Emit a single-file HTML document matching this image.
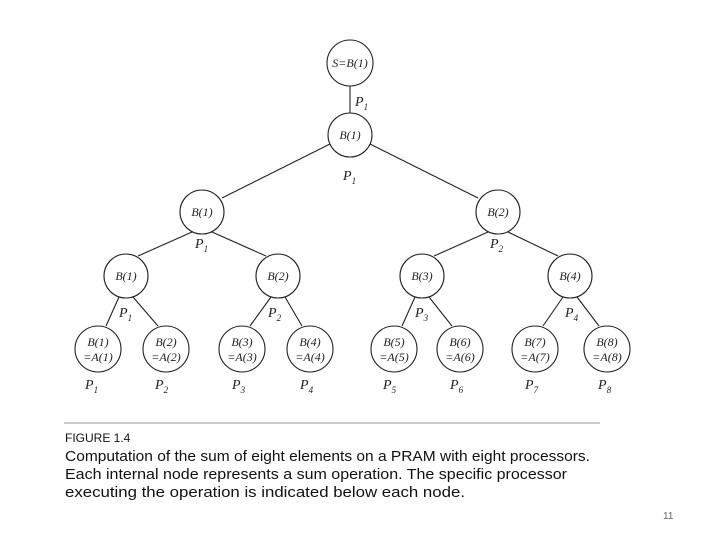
<!DOCTYPE html>
<html><head><meta charset="utf-8"><style>
body{margin:0;background:#fff;}
svg{display:block}
.n{font-family:"Liberation Serif",serif;font-style:italic;font-size:12px;fill:#222}
.p{font-family:"Liberation Serif",serif;font-style:italic;font-size:14px;fill:#222}
.s{font-size:9px}
.c{font-family:"Liberation Sans",sans-serif;fill:#111}
</style></head><body>
<svg width="720" height="540" viewBox="0 0 720 540" xmlns="http://www.w3.org/2000/svg">
<g stroke="#222" stroke-width="1.1" fill="none">
<line x1="350" y1="86" x2="350" y2="113"/>
<line x1="330" y1="144" x2="222" y2="198"/>
<line x1="370" y1="144" x2="478" y2="198"/>
<line x1="192" y1="232" x2="138" y2="256"/>
<line x1="212" y1="232" x2="266" y2="256"/>
<line x1="488" y1="232" x2="434" y2="256"/>
<line x1="508" y1="232" x2="558" y2="256"/>
<line x1="119" y1="297" x2="106" y2="326"/>
<line x1="133" y1="297" x2="158" y2="326"/>
<line x1="271" y1="297" x2="250" y2="326"/>
<line x1="285" y1="297" x2="302" y2="326"/>
<line x1="415" y1="297" x2="402" y2="326"/>
<line x1="429" y1="297" x2="452" y2="326"/>
<line x1="563" y1="297" x2="543" y2="326"/>
<line x1="577" y1="297" x2="599" y2="326"/>
<circle cx="350" cy="63" r="23"/>
<circle cx="350" cy="135" r="22"/>
<circle cx="202" cy="212" r="22"/>
<circle cx="498" cy="212" r="22"/>
<circle cx="126" cy="276" r="22"/>
<circle cx="278" cy="276" r="22"/>
<circle cx="422" cy="276" r="22"/>
<circle cx="570" cy="276" r="22"/>
<circle cx="98" cy="349" r="23"/>
<circle cx="166" cy="349" r="23"/>
<circle cx="242" cy="349" r="23"/>
<circle cx="310" cy="349" r="23"/>
<circle cx="394" cy="349" r="23"/>
<circle cx="460" cy="349" r="23"/>
<circle cx="535" cy="349" r="23"/>
<circle cx="607" cy="349" r="23"/>
</g>
<g class="n" text-anchor="middle">
<text x="350" y="67">S=B(1)</text>
<text x="350" y="139">B(1)</text>
<text x="202" y="216">B(1)</text>
<text x="498" y="216">B(2)</text>
<text x="126" y="280">B(1)</text>
<text x="278" y="280">B(2)</text>
<text x="422" y="280">B(3)</text>
<text x="570" y="280">B(4)</text>
<text x="98" y="346">B(1)</text><text x="98" y="361">=A(1)</text>
<text x="166" y="346">B(2)</text><text x="166" y="361">=A(2)</text>
<text x="242" y="346">B(3)</text><text x="242" y="361">=A(3)</text>
<text x="310" y="346">B(4)</text><text x="310" y="361">=A(4)</text>
<text x="394" y="346">B(5)</text><text x="394" y="361">=A(5)</text>
<text x="460" y="346">B(6)</text><text x="460" y="361">=A(6)</text>
<text x="535" y="346">B(7)</text><text x="535" y="361">=A(7)</text>
<text x="607" y="346">B(8)</text><text x="607" y="361">=A(8)</text>
</g>
<g class="p">
<text x="355" y="106">P<tspan class="s" dy="4">1</tspan></text>
<text x="343" y="180">P<tspan class="s" dy="4">1</tspan></text>
<text x="195" y="248">P<tspan class="s" dy="4">1</tspan></text>
<text x="490" y="248">P<tspan class="s" dy="4">2</tspan></text>
<text x="119" y="317">P<tspan class="s" dy="4">1</tspan></text>
<text x="268" y="317">P<tspan class="s" dy="4">2</tspan></text>
<text x="415" y="317">P<tspan class="s" dy="4">3</tspan></text>
<text x="565" y="317">P<tspan class="s" dy="4">4</tspan></text>
<text x="85" y="389">P<tspan class="s" dy="4">1</tspan></text>
<text x="155" y="389">P<tspan class="s" dy="4">2</tspan></text>
<text x="232" y="389">P<tspan class="s" dy="4">3</tspan></text>
<text x="300" y="389">P<tspan class="s" dy="4">4</tspan></text>
<text x="383" y="389">P<tspan class="s" dy="4">5</tspan></text>
<text x="450" y="389">P<tspan class="s" dy="4">6</tspan></text>
<text x="525" y="389">P<tspan class="s" dy="4">7</tspan></text>
<text x="598" y="389">P<tspan class="s" dy="4">8</tspan></text>
</g>
<line x1="64" y1="423" x2="600" y2="423" stroke="#999" stroke-width="1"/>
<g class="c">
<text x="65" y="442" font-size="12">FIGURE 1.4</text>
<text x="65" y="461" font-size="15" textLength="525" lengthAdjust="spacingAndGlyphs">Computation of the sum of eight elements on a PRAM with eight processors.</text>
<text x="65" y="479" font-size="15" textLength="502" lengthAdjust="spacingAndGlyphs">Each internal node represents a sum operation. The specific processor</text>
<text x="65" y="497" font-size="15" textLength="400" lengthAdjust="spacingAndGlyphs">executing the operation is indicated below each node.</text>
</g>
<text x="663" y="519" font-family="Liberation Sans,sans-serif" font-size="10" fill="#666">11</text>
</svg>
</body></html>
